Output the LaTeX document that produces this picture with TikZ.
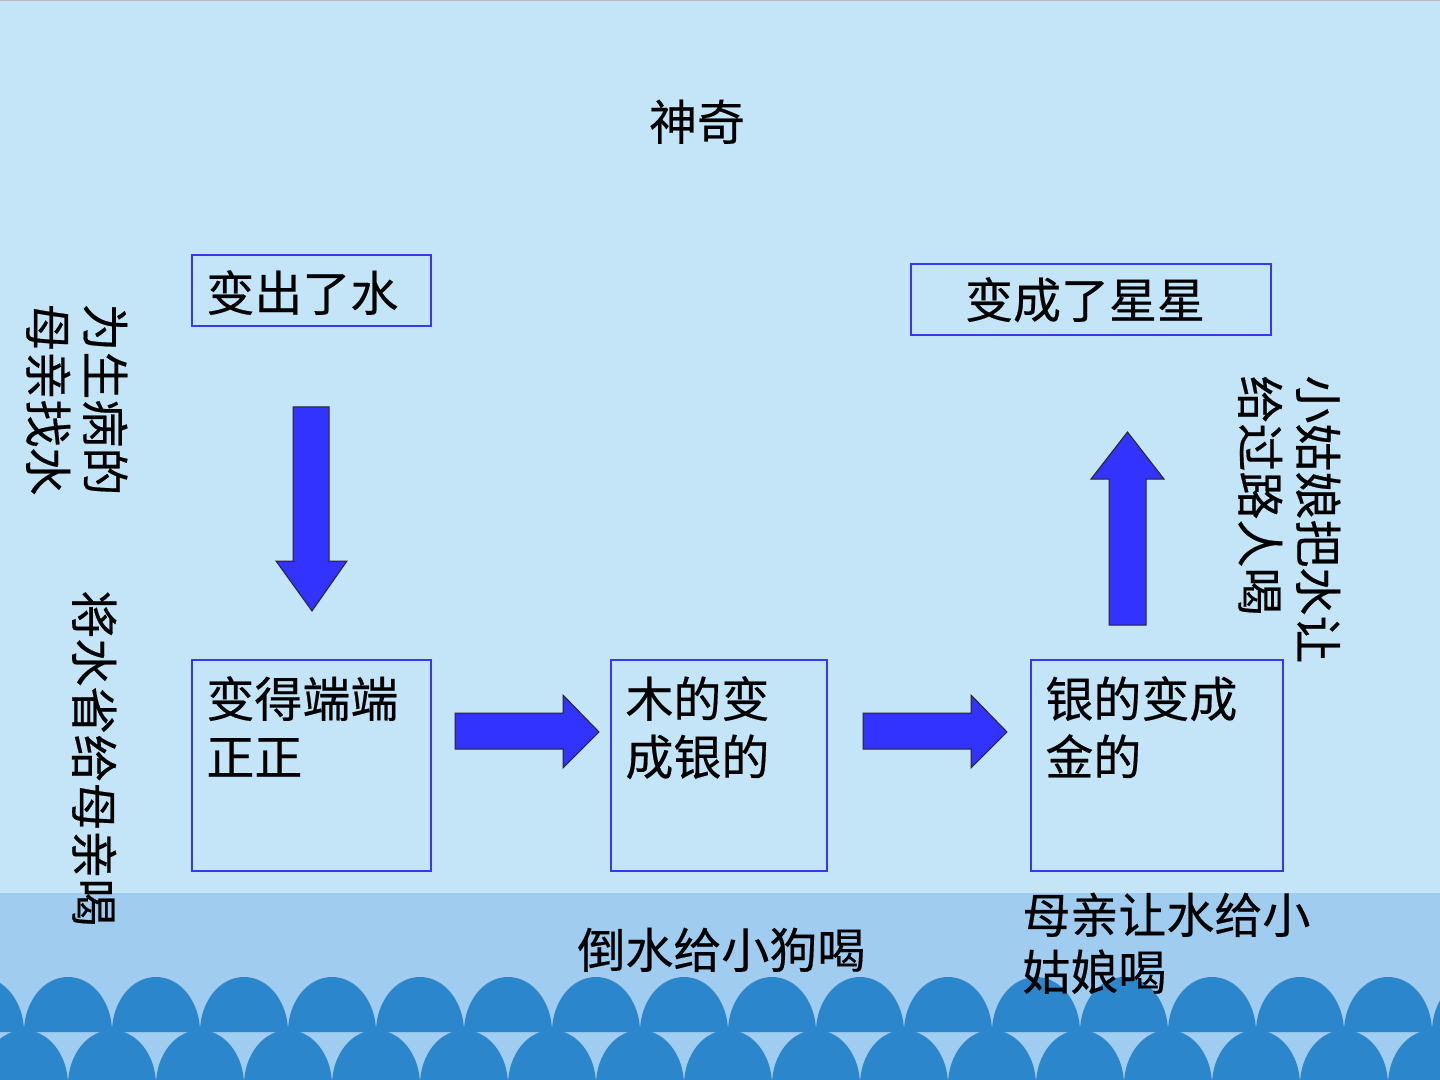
\documentclass[tikz,border=0pt]{standalone}
\usepackage{fontspec}
\setmainfont{Noto Sans CJK SC}[FakeBold=0.4]
\definecolor{skybg}{HTML}{C4E5F8}
\definecolor{bandbg}{HTML}{9FCCEF}
\definecolor{wavec}{HTML}{2B86CB}
\definecolor{boxline}{HTML}{3838F0}
\definecolor{arrowfill}{HTML}{3333FF}
\tikzset{
  txt/.style={inner sep=0pt, font=\fontsize{24}{28.5}\selectfont, text=black},
  box/.style={draw=boxline, line width=0.75pt, inner sep=0pt},
  blockarrow/.style={fill=arrowfill, draw=black!85, line width=0.5pt, line join=miter},
  wave/.style={fill=wavec}
}
\begin{document}
\begin{tikzpicture}[x=0.5pt,y=-0.5pt]
\useasboundingbox (0,0) rectangle (1440,1080);
% background
\fill[skybg] (0,0) rectangle (1440,1080);
\draw[color=gray!55, line width=1pt] (0,0.5) -- (1440,0.5);
\fill[bandbg] (0,893) rectangle (1440,1080);
% waves lower row
\foreach \k in {-1,...,17}{
  \pgfmathsetmacro{\cx}{24+88*\k}
  \fill[wave] ({\cx-44},1085) .. controls ({\cx-44},1054.6) and ({\cx-24.3},1030) .. (\cx,1030)
     .. controls ({\cx+24.3},1030) and ({\cx+44},1054.6) .. ({\cx+44},1085) -- cycle;
}
% waves upper row
\foreach \k in {-1,...,16}{
  \pgfmathsetmacro{\cx}{68+88*\k}
  \fill[wave] ({\cx-44},1032) .. controls ({\cx-44},1001.6) and ({\cx-24.3},977) .. (\cx,977)
     .. controls ({\cx+24.3},977) and ({\cx+44},1001.6) .. ({\cx+44},1032) -- cycle;
}
% title
\node[txt, anchor=base] (title) at (697,140) {神奇};
% boxes
\node[box, minimum width=119.5pt, minimum height=35.5pt] (b1) at (311.5,290.5) {};
\node[box, minimum width=180pt, minimum height=35.5pt] (b2) at (1091,299.5) {};
\node[box, minimum width=119.5pt, minimum height=105.5pt] (b3) at (311.5,765.5) {};
\node[box, minimum width=108pt, minimum height=105.5pt] (b4) at (719,765.5) {};
\node[box, minimum width=126pt, minimum height=105.5pt] (b5) at (1157,765.5) {};
% box texts
\node[txt, anchor=base west] (t1) at (206,311) {变出了水};
\node[txt, anchor=base] (t2) at (1085,318) {变成了星星};
\node[txt, anchor=base west] (t3a) at (206,717) {变得端端};
\node[txt, anchor=base west] (t3b) at (206,775) {正正};
\node[txt, anchor=base west] (t4a) at (625,717) {木的变};
\node[txt, anchor=base west] (t4b) at (625,775) {成银的};
\node[txt, anchor=base west] (t5a) at (1045,717) {银的变成};
\node[txt, anchor=base west] (t5b) at (1045,775) {金的};
% bottom texts
\node[txt, anchor=base west] (bt1) at (577,968) {倒水给小狗喝};
\node[txt, anchor=base west] (bt2a) at (1022,933) {母亲让水给小};
\node[txt, anchor=base west] (bt2b) at (1022,990) {姑娘喝};
% vertical texts
\node[txt, rotate=-90, anchor=base west] (v1a) at (87,303) {为生病的};
\node[txt, rotate=-90, anchor=base west] (v1b) at (30,303) {母亲找水};
\node[txt, rotate=-90, anchor=base west] (v2) at (76,590) {将水省给母亲喝};
\node[txt, rotate=-90, anchor=base west] (v3a) at (1300,375) {小姑娘把水让};
\node[txt, rotate=-90, anchor=base west] (v3b) at (1242,375) {给过路人喝};
% block arrows
\draw[blockarrow] (293,407) -- (329,407) -- (329,561) -- (347,561) -- (312,611) -- (276,561) -- (293,561) -- cycle;
\draw[blockarrow] (455,713) -- (563,713) -- (563,695) -- (599,732) -- (563,768) -- (563,749) -- (455,749) -- cycle;
\draw[blockarrow] (863,713) -- (971,713) -- (971,695) -- (1007,732) -- (971,768) -- (971,749) -- (863,749) -- cycle;
\draw[blockarrow] (1109,625) -- (1146,625) -- (1146,479) -- (1164,479) -- (1127.5,432) -- (1091,479) -- (1109,479) -- cycle;
\end{tikzpicture}
\end{document}
